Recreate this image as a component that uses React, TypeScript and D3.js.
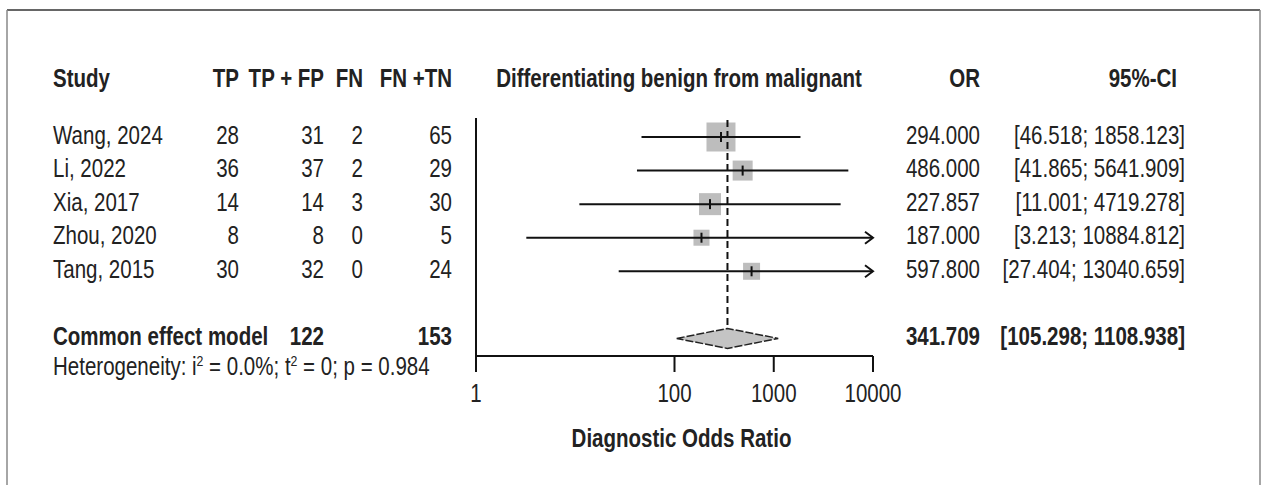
import React from 'react';
import * as d3 from 'd3';

// Study-level data
const studies = ['Wang, 2024', 'Li, 2022', 'Xia, 2017', 'Zhou, 2020', 'Tang, 2015'];
const tp = [28, 36, 14, 8, 30];
const tpfp = [31, 37, 14, 8, 32];
const fn = [2, 2, 3, 0, 0];
const fntn = [65, 29, 30, 5, 24];
const oddsRatio = [294.0, 486.0, 227.857, 187.0, 597.8];
const ciLower = [46.518, 41.865, 11.001, 3.213, 27.404];
const ciUpper = [1858.123, 5641.909, 4719.278, 10884.812, 13040.659];
const weights = [37.0, 17.6, 21.3, 11.3, 12.7];

// Pooled (common effect) estimate
const pooledOR = 341.709;
const pooledLower = 105.298;
const pooledUpper = 1108.938;
const totalTPFP = 122;
const totalFNTN = 153;

const xTicks = [1, 100, 1000, 10000];

// no narrow font installed: squeeze Liberation Sans horizontally instead
const FONT = "'Liberation Sans', Arial, sans-serif";
const FS = 25;
const SX = 0.82;
const INK = '#222';

function T({ x, y, anchor = 'start', bold = false, children }: any) {
  return (
    <g transform={`translate(${x},${y}) scale(${SX},1)`}>
      <text fontFamily={FONT} fontSize={FS} fill={INK} textAnchor={anchor}
        fontWeight={bold ? 'bold' : 'normal'}>
        {children}
      </text>
    </g>
  );
}

export default function App() {
  const width = 1264;
  const height = 485;

  const x = d3.scaleLog().domain([1, 10000]).range([476, 873]);
  // row index -> vertical centre (0..4 studies, 6 pooled, 7 heterogeneity)
  const row = d3.scaleLinear().domain([0, 7]).range([137, 372]);
  const sq = d3.scaleSqrt().domain([0, d3.max(weights) as number]).range([0, 29]);

  const axisY = 356;
  const plotTop = 118;
  const headerY = 87;
  const [xMin, xMax] = x.range();

  // right edges of the table columns
  const colTP = 239;
  const colTPFP = 324;
  const colFN = 363;
  const colFNTN = 452;
  const colOR = 980;
  const colCI = 1185;

  const py = row(6);
  const dh = 10;
  const diamond = [
    [x(pooledLower), py],
    [x(pooledOR), py - dh],
    [x(pooledUpper), py],
    [x(pooledOR), py + dh],
  ];

  return (
    <svg width={width} height={height} style={{ position: 'absolute', left: 0, top: 0, background: '#fff' }}>
      {/* frame */}
      <line x1={7} y1={10} x2={1260} y2={10} stroke="#333" strokeWidth={1.5} />
      <line x1={7} y1={10} x2={7} y2={height} stroke="#888" strokeWidth={1.5} />
      <line x1={1260} y1={10} x2={1260} y2={height} stroke="#888" strokeWidth={1.5} />

      {/* headers */}
      <T x={53} y={headerY} bold>Study</T>
      <T x={colTP} y={headerY} anchor="end" bold>TP</T>
      <T x={colTPFP} y={headerY} anchor="end" bold>TP + FP</T>
      <T x={colFN} y={headerY} anchor="end" bold>FN</T>
      <T x={colFNTN} y={headerY} anchor="end" bold>FN +TN</T>
      <T x={679} y={headerY} anchor="middle" bold>Differentiating benign from malignant</T>
      <T x={colOR} y={headerY} anchor="end" bold>OR</T>
      <T x={1177} y={headerY} anchor="end" bold>95%-CI</T>

      {/* study rows */}
      {studies.map((s, i) => {
        const b = row(i) + 6.5;
        return (
          <g key={s}>
            <T x={53} y={b}>{s}</T>
            <T x={colTP} y={b} anchor="end">{tp[i]}</T>
            <T x={colTPFP} y={b} anchor="end">{tpfp[i]}</T>
            <T x={colFN} y={b} anchor="end">{fn[i]}</T>
            <T x={colFNTN} y={b} anchor="end">{fntn[i]}</T>
            <T x={colOR} y={b} anchor="end">{oddsRatio[i].toFixed(3)}</T>
            <T x={colCI} y={b} anchor="end">{`[${ciLower[i].toFixed(3)}; ${ciUpper[i].toFixed(3)}]`}</T>
          </g>
        );
      })}

      {/* squares drawn beneath the CI lines */}
      {studies.map((s, i) => {
        const size = sq(weights[i]);
        return (
          <rect key={'sq' + s} x={x(oddsRatio[i]) - size / 2} y={row(i) - size / 2}
            width={size} height={size} fill="#bdbdbd" />
        );
      })}

      {/* reference dashed line at pooled estimate */}
      <line x1={x(pooledOR)} x2={x(pooledOR)} y1={plotTop + 2} y2={py - dh}
        stroke="#111" strokeWidth={2} strokeDasharray="7,4" />

      {studies.map((s, i) => {
        const y = row(i);
        const lo = Math.max(ciLower[i], 1);
        const clipped = ciUpper[i] > 10000;
        const hi = Math.min(ciUpper[i], 10000);
        return (
          <g key={'ci' + s} stroke="#111" strokeWidth={2} fill="none">
            <line x1={x(lo)} x2={x(hi)} y1={y} y2={y} />
            {clipped && (
              <path d={`M${x(hi) - 8},${y - 6} L${x(hi)},${y} L${x(hi) - 8},${y + 6}`} />
            )}
            <line x1={x(oddsRatio[i])} x2={x(oddsRatio[i])} y1={y - 5} y2={y + 5} />
          </g>
        );
      })}

      {/* pooled diamond */}
      <polygon points={diamond.map((p) => p.join(',')).join(' ')} fill="#c4c4c4"
        stroke="#222" strokeWidth={1.5} strokeDasharray="8,2" />

      {/* pooled row text */}
      <T x={53} y={py + 6.5} bold>Common effect model</T>
      <T x={colTPFP} y={py + 6.5} anchor="end" bold>{totalTPFP}</T>
      <T x={colFNTN} y={py + 6.5} anchor="end" bold>{totalFNTN}</T>
      <T x={colOR} y={py + 6.5} anchor="end" bold>{pooledOR.toFixed(3)}</T>
      <T x={colCI} y={py + 6.5} anchor="end" bold>{`[${pooledLower.toFixed(3)}; ${pooledUpper.toFixed(3)}]`}</T>
      <T x={53} y={row(7) + 3}>
        Heterogeneity: i<tspan fontSize={15} dy={-9}>2</tspan><tspan dy={9}> = 0.0%; t</tspan>
        <tspan fontSize={15} dy={-9}>2</tspan><tspan dy={9}> = 0; p = 0.984</tspan>
      </T>

      {/* plot frame: left line and bottom axis */}
      <line x1={xMin} x2={xMin} y1={plotTop} y2={axisY} stroke="#111" strokeWidth={2} />
      <line x1={xMin} x2={xMax} y1={axisY} y2={axisY} stroke="#111" strokeWidth={2} />
      {xTicks.map((t) => (
        <g key={t}>
          <line x1={x(t)} x2={x(t)} y1={axisY} y2={axisY + 16} stroke="#111" strokeWidth={2} />
          <T x={x(t)} y={402} anchor="middle">{t}</T>
        </g>
      ))}
      <T x={(xMin + xMax) / 2 + 7} y={447} anchor="middle" bold>Diagnostic Odds Ratio</T>
    </svg>
  );
}
